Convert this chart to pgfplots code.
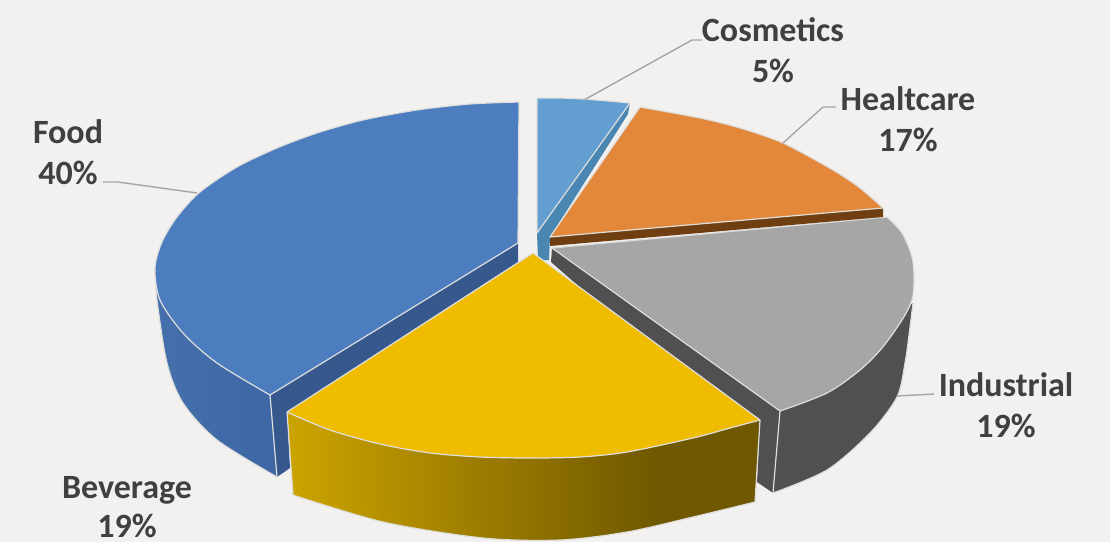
\documentclass[border=0pt]{standalone}
\usepackage{pgfplots}
\pgfplotsset{compat=1.18}
\usepackage{pgfplotstable}
\usepackage{fontspec}
\setmainfont{Carlito}
\definecolor{pagebg}{HTML}{F2F1EF}
\definecolor{rim}{HTML}{DEDEDC}
\definecolor{leader}{HTML}{A6A6A6}
\definecolor{labeltext}{HTML}{404040}
\definecolor{foodtop}{HTML}{4C7DBF}
\definecolor{foodwallL}{HTML}{4670AB}
\definecolor{foodwallR}{HTML}{3D67A5}
\definecolor{foodcut}{HTML}{36588C}
\definecolor{cosmtop}{HTML}{629FD0}
\definecolor{cosmcut}{HTML}{4A86B2}
\definecolor{healtop}{HTML}{E3873A}
\definecolor{healcut}{HTML}{6F3F12}
\definecolor{indutop}{HTML}{A6A6A6}
\definecolor{inducut}{HTML}{505050}
\definecolor{bevetop}{HTML}{F0BC00}
\definecolor{bevelight}{HTML}{CCA400}
\definecolor{bevedark}{HTML}{705800}
\pgfdeclarehorizontalshading{bevewall}{100bp}{color(0bp)=(bevelight); color(25bp)=(bevelight); color(64bp)=(bevedark); color(100bp)=(bevedark)}
% Labels sit on a given baseline, centred horizontally
\newcommand{\lab}[3]{\node[font=\fontsize{34}{34}\selectfont\bfseries,text=labeltext,inner sep=0pt,anchor=base] at (axis cs:#1,#2) {#3};}
% Outer arcs of the slices, in picture pixels
\pgfplotstableread{
x y
519 102
470 104
417 110
363 120
317 133
277 148
237 167
200 192
177 217
162 242
155 268
160 300
183 333
217 363
270 395
}\foodarc
\pgfplotstableread{
x y
155 268
157 300
167 363
183 403
217 440
277 477
}\foodbase
\pgfplotstableread{
x y
640 107
700 118
740 128
783 143
833 170
860 188
883 208
}\healarc
\pgfplotstableread{
x y
887 217
902 233
912 257
914 280
912 300
902 320
882 348
860 370
827 393
780 411
}\induarc
\pgfplotstableread{
x y
913 303
909 335
905 363
897 397
870 433
827 470
773 493
}\indubase
\pgfplotstableread{
x y
287 412
330 430
380 444
430 453
480 457
530 458
580 457
627 452
693 438
730 428
760 420
}\bevearc
\pgfplotstableread{
x y
293 495
383 522
483 538
560 540
627 532
693 517
755 502
}\bevebase
\begin{document}
\begin{tikzpicture}
\useasboundingbox (0,0) rectangle (1110pt,542pt);
\begin{axis}[
  scale only axis, width=1110pt, height=542pt,
  xmin=0, xmax=1110, ymin=0, ymax=542, y dir=reverse,
  hide axis, clip=false,
  axis background/.style={fill=pagebg},
  every axis plot/.append style={line width=1.2pt, line join=round},
]
% Each curved outline is a smoothed arc closed by its chord, joined to a straight-edged polygon.
% Food: wall
\addplot[smooth, left color=foodwallL, right color=foodwallR, draw=none] table {\foodbase} --cycle;
\addplot[left color=foodwallL, right color=foodwallR, draw=none] coordinates {
 (155,268) (183,403) (277,477) (270,395)} --cycle;
\addplot[smooth, draw=rim] table {\foodbase};
% Food: cut face and top
\addplot[fill=foodcut, draw=none] coordinates {
 (518,243) (518,262) (287,412) (290,468) (277,477) (270,395)} --cycle;
\addplot[draw=rim] coordinates {(270,395) (277,477)};
\addplot[smooth, fill=foodtop, draw=none] table {\foodarc} --cycle;
\addplot[fill=foodtop, draw=none] coordinates {
 (519,102) (518,243) (270,395) (183,333)} --cycle;
\addplot[smooth, draw=rim] table {\foodarc};
\addplot[draw=rim] coordinates {(519,102) (518,243) (270,395)};
% Cosmetics: cut face and top
\addplot[fill=cosmcut, draw=none] coordinates {
 (537,233) (630,103) (628,114) (550,237) (549,260) (538,260)} --cycle;
\addplot[fill=cosmtop, draw=rim] coordinates {
 (537,98) (561,98) (585,99) (608,101) (630,103) (537,233)} --cycle;
% Industrial: cut face, wall, top
\addplot[fill=inducut, draw=none] coordinates {
 (552,248) (780,411) (773,493) (757,482) (760,420) (583,290) (551,262)} --cycle;
\addplot[smooth, fill=inducut, draw=none] table {\indubase} --cycle;
\addplot[fill=inducut, draw=none] coordinates {(780,411) (913,303) (870,433) (773,493)} --cycle;
\addplot[smooth, draw=rim] table {\indubase};
\addplot[draw=rim] coordinates {(780,411) (773,493)};
\addplot[smooth, fill=indutop, draw=none] table {\induarc} --cycle;
\addplot[fill=indutop, draw=none] coordinates {(552,248) (887,217) (902,320) (780,411)} --cycle;
\addplot[smooth, draw=rim] table {\induarc};
\addplot[draw=rim] coordinates {(887,217) (552,248) (780,411)};
% Healtcare: cut face and top
\addplot[fill=healcut, draw=none] coordinates {
 (550,237) (883,208) (883,217) (550,246)} --cycle;
\addplot[smooth, fill=healtop, draw=none] table {\healarc} --cycle;
\addplot[fill=healtop, draw=none] coordinates {(550,237) (640,107) (783,143) (883,208)} --cycle;
\addplot[smooth, draw=rim] table {\healarc};
\addplot[draw=rim] coordinates {(640,107) (550,237) (883,208)};
% Beverage: wall, rim, top
\addplot[smooth, shading=bevewall, draw=none] table {\bevebase} --cycle;
\addplot[shading=bevewall, draw=none] coordinates {
 (287,412) (293,495) (560,540) (755,502) (760,420)} --cycle;
\addplot[smooth, draw=rim] table {\bevebase};
\addplot[draw=rim] coordinates {(293,495) (287,412)};
\addplot[draw=rim] coordinates {(755,502) (760,420)};
\addplot[smooth, fill=bevetop, draw=none] table {\bevearc} --cycle;
\addplot[fill=bevetop, draw=none] coordinates {(533,253) (287,412) (530,458) (760,420)} --cycle;
\addplot[smooth, draw=rim] table {\bevearc};
\addplot[draw=rim] coordinates {(287,412) (533,253) (760,420)};
% Leader lines
\addplot[draw=leader, line width=1.4pt] coordinates {(584,100) (692,40) (702,40)};
\addplot[draw=leader, line width=1.4pt] coordinates {(783,143) (823,107) (836,107)};
\addplot[draw=leader, line width=1.4pt] coordinates {(103,182) (118,182) (197,193)};
\addplot[draw=leader, line width=1.4pt] coordinates {(897,396) (934,394)};
% Labels
\lab{773}{41}{Cosmetics}
\lab{773}{82}{5\%}
\lab{908}{110}{Healtcare}
\lab{908}{151}{17\%}
\lab{68}{143}{Food}
\lab{68}{184}{40\%}
\lab{1006}{396}{Industrial}
\lab{1006}{437}{19\%}
\lab{127}{498.5}{Beverage}
\lab{127}{537}{19\%}
\end{axis}
\end{tikzpicture}
\end{document}
